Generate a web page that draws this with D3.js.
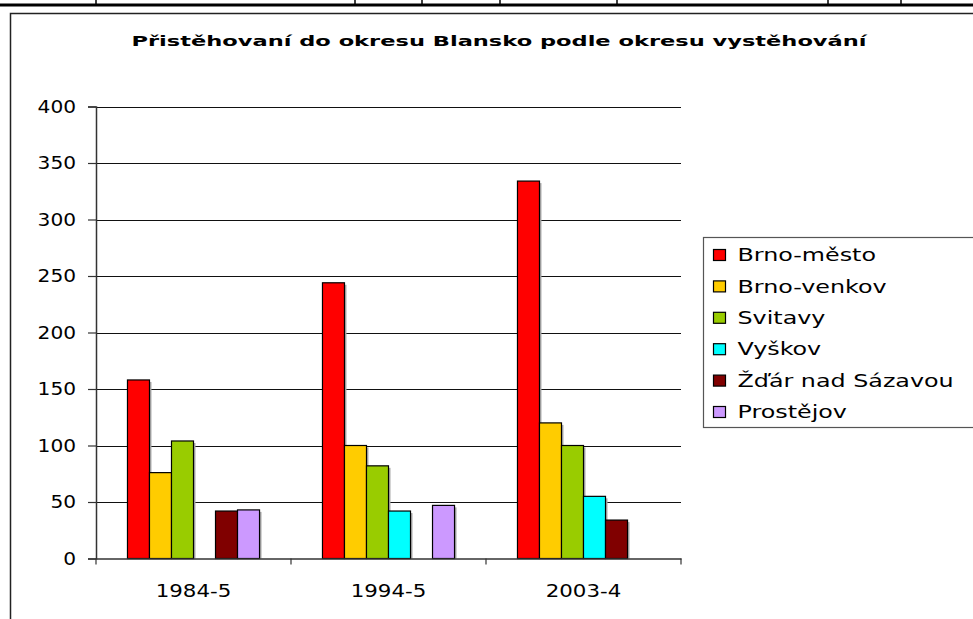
<!DOCTYPE html>
<html>
<head>
<meta charset="utf-8">
<script src="https://cdn.jsdelivr.net/npm/d3@7"></script>
<style>
  html, body { margin: 0; padding: 0; background: #fff; }
  svg { display: block; }
  text { font-family: "DejaVu Sans", sans-serif; fill: #000; }
</style>
</head>
<body>
<svg id="chart" width="973" height="619"></svg>
<script>
// data
var categories = ['1984-5', '1994-5', '2003-4'];
var seriesNames = ['Brno-město', 'Brno-venkov', 'Svitavy', 'Vyškov', 'Žďár nad Sázavou', 'Prostějov'];
var seriesColors = ['#ff0000', '#ffcc00', '#99cc00', '#00ffff', '#800000', '#cc99ff'];
var brnoMesto = [158, 244, 334];
var brnoVenkov = [76, 100, 120];
var svitavy = [104, 82, 100];
var vyskov = [null, 42, 55];
var zdar = [42, null, 34];
var prostejov = [43, 47, null];
var yTicks = [0, 50, 100, 150, 200, 250, 300, 350, 400];
var tableCols = [96, 355, 422, 500, 617, 828, 901];

var seriesValues = [brnoMesto, brnoVenkov, svitavy, vyskov, zdar, prostejov];

var svg = d3.select('#chart');

// stretch text sideways, the original font is much wider
function widen(sel, factor) {
  sel.each(function () {
    var w = this.getComputedTextLength();
    d3.select(this)
      .attr('textLength', w * factor)
      .attr('lengthAdjust', 'spacingAndGlyphs');
  });
}

// table borders above the chart
svg.append('line')
  .attr('x1', 0).attr('x2', 973).attr('y1', 5).attr('y2', 5)
  .attr('stroke', '#000').attr('stroke-width', 3);
svg.selectAll('line.col')
  .data(tableCols)
  .enter().append('line')
  .attr('class', 'col')
  .attr('x1', function (d) { return d; }).attr('x2', function (d) { return d; })
  .attr('y1', 0).attr('y2', 5)
  .attr('stroke', '#000').attr('stroke-width', 1.5);

// chart frame
svg.append('rect')
  .attr('x', 10.5).attr('y', 13.5)
  .attr('width', 1000).attr('height', 700)
  .attr('fill', '#fff')
  .attr('stroke', '#222').attr('stroke-width', 1.5);

svg.append('text')
  .attr('x', 499).attr('y', 46)
  .attr('text-anchor', 'middle')
  .attr('textLength', 735)
  .attr('lengthAdjust', 'spacingAndGlyphs')
  .style('font-size', '14.5px')
  .style('font-weight', 'bold')
  .text('Přistěhovaní do okresu Blansko podle okresu vystěhování');

var plot = { left: 96, right: 681, top: 106.5, bottom: 558.5 };

var x0 = d3.scaleBand()
  .domain(categories)
  .range([plot.left, plot.right]);

var x1 = d3.scaleBand()
  .domain(seriesNames)
  .range([0, x0.bandwidth()])
  .paddingOuter(1.43);

var y = d3.scaleLinear()
  .domain([0, 400])
  .range([plot.bottom, plot.top]);

// gridlines
svg.append('g')
  .selectAll('line')
  .data(yTicks.slice(1))
  .enter().append('line')
  .attr('x1', plot.left).attr('x2', plot.right)
  .attr('y1', function (d) { return Math.round(y(d)) + 0.5; })
  .attr('y2', function (d) { return Math.round(y(d)) + 0.5; })
  .attr('stroke', '#111').attr('stroke-width', 1.2);

// bars
var groups = svg.append('g')
  .selectAll('g')
  .data(seriesNames)
  .enter().append('g');

groups.each(function (name, si) {
  var g = d3.select(this);
  var vals = categories.map(function (c, ci) {
    return { cat: c, v: seriesValues[si][ci] };
  }).filter(function (d) { return d.v != null; });

  g.selectAll('rect.shadow')
    .data(vals)
    .enter().append('rect')
    .attr('class', 'shadow')
    .attr('x', function (d) { return x0(d.cat) + x1(name) + 2; })
    .attr('y', function (d) { return y(d.v) + 2; })
    .attr('width', x1.bandwidth())
    .attr('height', function (d) { return plot.bottom - y(d.v) - 2; })
    .attr('fill', '#aaa');

  g.selectAll('rect.bar')
    .data(vals)
    .enter().append('rect')
    .attr('class', 'bar')
    .attr('x', function (d) { return x0(d.cat) + x1(name); })
    .attr('y', function (d) { return y(d.v); })
    .attr('width', x1.bandwidth())
    .attr('height', function (d) { return plot.bottom - y(d.v); })
    .attr('fill', seriesColors[si])
    .attr('stroke', '#000').attr('stroke-width', 1.2);
});

// y axis
var yAxis = d3.axisLeft(y)
  .tickValues(yTicks)
  .tickSize(8)
  .tickPadding(12);

svg.append('g')
  .attr('transform', 'translate(' + plot.left + ',0)')
  .call(yAxis)
  .call(function (g) {
    g.select('.domain').attr('stroke', '#333').attr('stroke-width', 1.5);
    g.selectAll('.tick line').attr('stroke', '#333').attr('stroke-width', 1.2);
    g.selectAll('.tick text')
      .style('font-size', '17.5px')
      .style('font-family', '"DejaVu Sans", sans-serif')
      .call(widen, 1.15);
  });

// x axis
var xAxis = d3.axisBottom(x0)
  .tickSize(0)
  .tickPadding(0);

svg.append('g')
  .attr('transform', 'translate(0,' + plot.bottom + ')')
  .call(xAxis)
  .call(function (g) {
    g.select('.domain').attr('stroke', '#333').attr('stroke-width', 1.5);
    g.selectAll('.tick text')
      .attr('y', 38.5)
      .attr('dy', 0)
      .style('font-size', '17.5px')
      .style('font-family', '"DejaVu Sans", sans-serif')
      .call(widen, 1.22);
  });

// category separator ticks
svg.append('g')
  .selectAll('line')
  .data(categories.concat([null]))
  .enter().append('line')
  .attr('x1', function (d) { return d == null ? plot.right : x0(d); })
  .attr('x2', function (d) { return d == null ? plot.right : x0(d); })
  .attr('y1', plot.bottom).attr('y2', plot.bottom + 6)
  .attr('stroke', '#333').attr('stroke-width', 1.2);

// legend
var legend = svg.append('g').attr('transform', 'translate(703.5,237.5)');
legend.append('rect')
  .attr('width', 300).attr('height', 190)
  .attr('fill', '#fff')
  .attr('stroke', '#555').attr('stroke-width', 1.2);

var items = legend.selectAll('g.item')
  .data(seriesNames)
  .enter().append('g')
  .attr('class', 'item')
  .attr('transform', function (d, i) { return 'translate(0,' + (17.5 + i * 31.4) + ')'; });

items.append('rect')
  .attr('x', 10).attr('y', -5.5)
  .attr('width', 12).attr('height', 11)
  .attr('fill', function (d, i) { return seriesColors[i]; })
  .attr('stroke', '#000').attr('stroke-width', 1.2);

items.append('text')
  .attr('x', 34).attr('y', 0)
  .attr('dy', '0.36em')
  .style('font-size', '17px')
  .text(function (d) { return d; })
  .call(widen, 1.4);
</script>
</body>
</html>
